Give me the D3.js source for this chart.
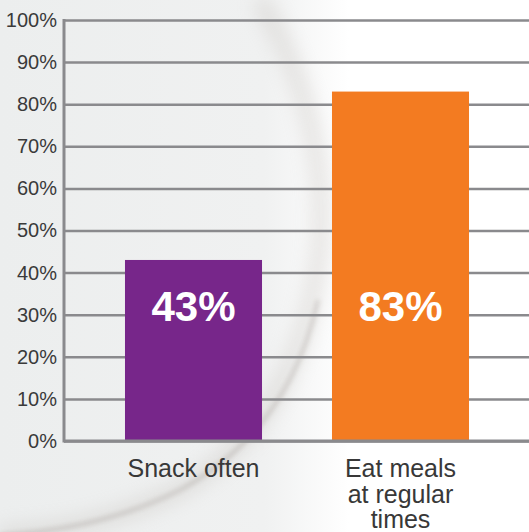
<!DOCTYPE html>
<html>
<head>
<meta charset="utf-8">
<script src="https://cdn.jsdelivr.net/npm/d3@7"></script>
<style>
  body { margin: 0; background: #fff; }
  svg { display: block; }
</style>
</head>
<body>
<div class="container"></div>
<script>
// chart data
var categories = ["Snack often", "Eat meals at regular times"];
var categoryLines = [["Snack often"], ["Eat meals", "at regular", "times"]];
var values = [43, 83];
var colors = ["#77268a", "#f37b21"];
var yTicks = [0, 10, 20, 30, 40, 50, 60, 70, 80, 90, 100];

var width = 529;
var height = 532;

var svg = d3.select(".container").append("svg")
    .attr("width", width)
    .attr("height", height);

// background - rough take on the plate photo
var defs = svg.append("defs");
var bg = defs.append("linearGradient").attr("id", "bg")
    .attr("x1", 0).attr("y1", 0).attr("x2", 1).attr("y2", 0);
bg.append("stop").attr("offset", "0%").attr("stop-color", "#eceeee");
bg.append("stop").attr("offset", "50%").attr("stop-color", "#f0f1f1");
bg.append("stop").attr("offset", "66%").attr("stop-color", "#ffffff");
bg.append("stop").attr("offset", "100%").attr("stop-color", "#ffffff");
defs.append("filter").attr("id", "blur")
  .append("feGaussianBlur").attr("stdDeviation", 9);
defs.append("filter").attr("id", "blur2")
  .append("feGaussianBlur").attr("stdDeviation", 2.5);

svg.append("rect").attr("width", width).attr("height", height).attr("fill", "url(#bg)");
svg.append("path")
    .attr("d", "M 260 0 Q 330 120 320 250 Q 300 420 180 490 Q 100 530 0 535")
    .attr("fill", "none").attr("stroke", "#c4bfba").attr("stroke-width", 18)
    .attr("opacity", 0.35).attr("filter", "url(#blur)");
svg.append("path")
    .attr("d", "M 318 300 Q 290 430 180 490 Q 100 530 0 535")
    .attr("fill", "none").attr("stroke", "#9a928c").attr("stroke-width", 3)
    .attr("opacity", 0.45).attr("filter", "url(#blur2)");

var y = d3.scaleLinear().domain([0, 100]).range([441, 20]);
var x = d3.scaleBand().domain(categories).range([90, 504])
    .paddingInner(0.338).paddingOuter(0.169);

// gridlines + tick labels
var yAxis = d3.axisLeft(y).tickValues(yTicks)
    .tickSize(-(width - 64))
    .tickPadding(7)
    .tickFormat(function (d) { return d + "%"; });

var gy = svg.append("g").attr("transform", "translate(64,0)").call(yAxis);
gy.select(".domain").remove();
gy.selectAll(".tick line")
    .attr("stroke", "#8a8a8d").attr("stroke-width", 2.5);
gy.selectAll(".tick text")
    .attr("fill", "#3a3a3a")
    .style("font-family", "'Liberation Sans', Arial, sans-serif")
    .style("font-size", "20px");

// bars
svg.selectAll("rect.bar").data(values)
  .enter().append("rect")
  .attr("class", "bar")
  .attr("x", function (d, i) { return x(categories[i]); })
  .attr("y", function (d) { return y(d); })
  .attr("width", x.bandwidth())
  .attr("height", function (d) { return y(0) - y(d); })
  .attr("fill", function (d, i) { return colors[i]; });

// vertical axis line and baseline on top
svg.append("line")
    .attr("x1", 64).attr("x2", 64).attr("y1", y(100) - 1).attr("y2", y(0) + 1.5)
    .attr("stroke", "#8a8a8d").attr("stroke-width", 3);
svg.append("line")
    .attr("x1", 64).attr("x2", width).attr("y1", y(0)).attr("y2", y(0))
    .attr("stroke", "#8a8a8d").attr("stroke-width", 3);

// value labels
svg.selectAll("text.val").data(values)
  .enter().append("text")
  .attr("class", "val")
  .attr("x", function (d, i) { return x(categories[i]) + x.bandwidth() / 2; })
  .attr("y", y(28.5))
  .attr("text-anchor", "middle")
  .attr("fill", "#fff")
  .style("font-family", "'Liberation Sans', Arial, sans-serif")
  .style("font-weight", "bold")
  .style("font-size", "42px")
  .text(function (d) { return d + "%"; });

// category labels
var cat = svg.selectAll("text.cat").data(categoryLines)
  .enter().append("text")
  .attr("class", "cat")
  .attr("x", function (d, i) { return x(categories[i]) + x.bandwidth() / 2; })
  .attr("y", 477)
  .attr("text-anchor", "middle")
  .attr("fill", "#383838")
  .style("font-family", "'Liberation Sans', Arial, sans-serif")
  .style("font-size", "25px");

cat.selectAll("tspan").data(function (d) { return d; })
  .enter().append("tspan")
  .attr("x", function () { return d3.select(this.parentNode).attr("x"); })
  .attr("dy", function (d, i) { return i === 0 ? 0 : 25.5; })
  .text(function (d) { return d; });
</script>
</body>
</html>
